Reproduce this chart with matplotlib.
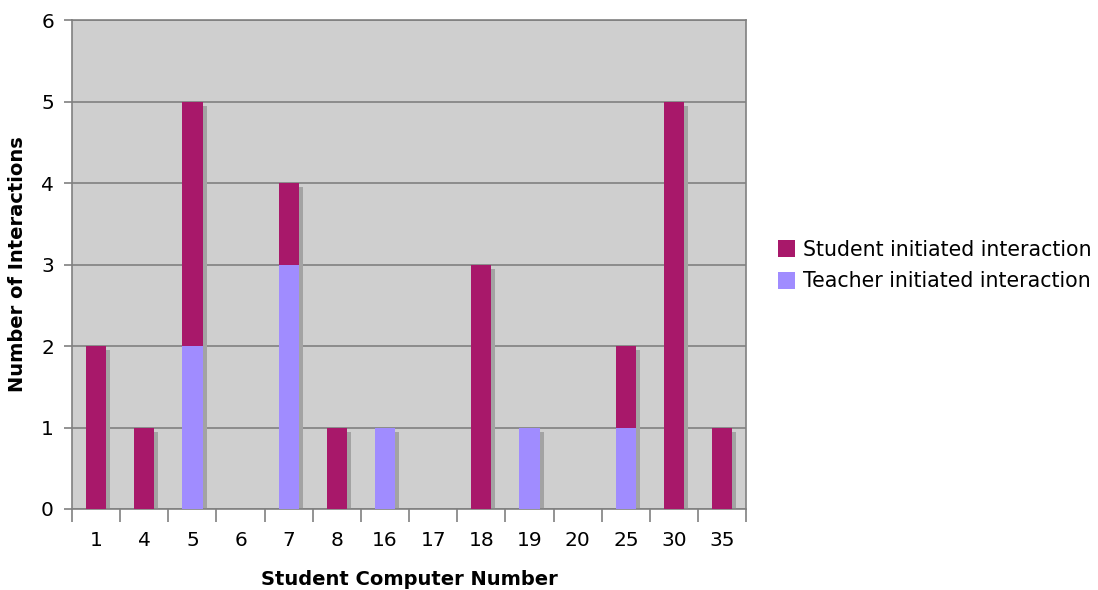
import numpy as np
import matplotlib
matplotlib.use("Agg")
import matplotlib.pyplot as plt
from matplotlib.transforms import offset_copy

computers = ["1", "4", "5", "6", "7", "8", "16", "17", "18", "19", "20", "25", "30", "35"]
teacher = [0, 0, 2, 0, 3, 0, 1, 0, 0, 1, 0, 1, 0, 0]
student = [2, 1, 3, 0, 1, 1, 0, 0, 3, 0, 0, 1, 5, 1]

plt.rcParams['font.family'] = ['DejaVu Sans']

fig = plt.figure(figsize=(10.98, 5.9), dpi=100)
ax = fig.add_axes([0.0656, 0.1373, 0.614, 0.8287])
ax.set_facecolor('#cfcfcf')

x = np.arange(len(computers))
teacher = np.array(teacher)
student = np.array(student)
total = teacher + student
w = 0.42

# drop shadow behind each stacked bar
shadow = offset_copy(ax.transData, fig=fig, x=4, y=-4, units='dots')
ax.bar(x, total, w, color='#a3a3a3', transform=shadow, zorder=2, clip_on=True)

ax.bar(x, teacher, w, color='#a08cff', zorder=3, label='Teacher initiated interaction')
ax.bar(x, student, w, bottom=teacher, color='#a8186a', zorder=3,
       label='Student initiated interaction')

ax.set_xlim(-0.5, len(computers) - 0.5)
ax.set_ylim(0, 6)
ax.set_yticks(range(7))
ax.yaxis.grid(True, color='#808080', linewidth=1.2, zorder=1)
ax.set_axisbelow(True)

ax.set_xticks(np.arange(-0.5, len(computers), 1.0))
ax.set_xticklabels([])
ax.set_xticks(x, minor=True)
ax.set_xticklabels(computers, minor=True)
ax.tick_params(axis='x', which='major', length=9, direction='out', color='#808080', width=1.2)
ax.tick_params(axis='x', which='minor', length=0, labelsize=14.5, pad=16)
ax.tick_params(axis='y', length=6, color='#808080', width=1.2, labelsize=14.5, pad=7)

for s in ax.spines.values():
    s.set_color('#808080')
    s.set_linewidth(1.2)

ax.set_xlabel('Student Computer Number', fontsize=14, fontweight='bold', labelpad=14)
ax.set_ylabel('Number of Interactions', fontsize=14, fontweight='bold', labelpad=10)

h, l = ax.get_legend_handles_labels()
fig.legend(h[::-1], l[::-1], loc='center left', bbox_to_anchor=(0.692, 0.55),
           frameon=False, fontsize=14.8, handlelength=0.8, handleheight=0.9,
           handletextpad=0.4, labelspacing=0.55)

fig.savefig('out.png', dpi=100)
